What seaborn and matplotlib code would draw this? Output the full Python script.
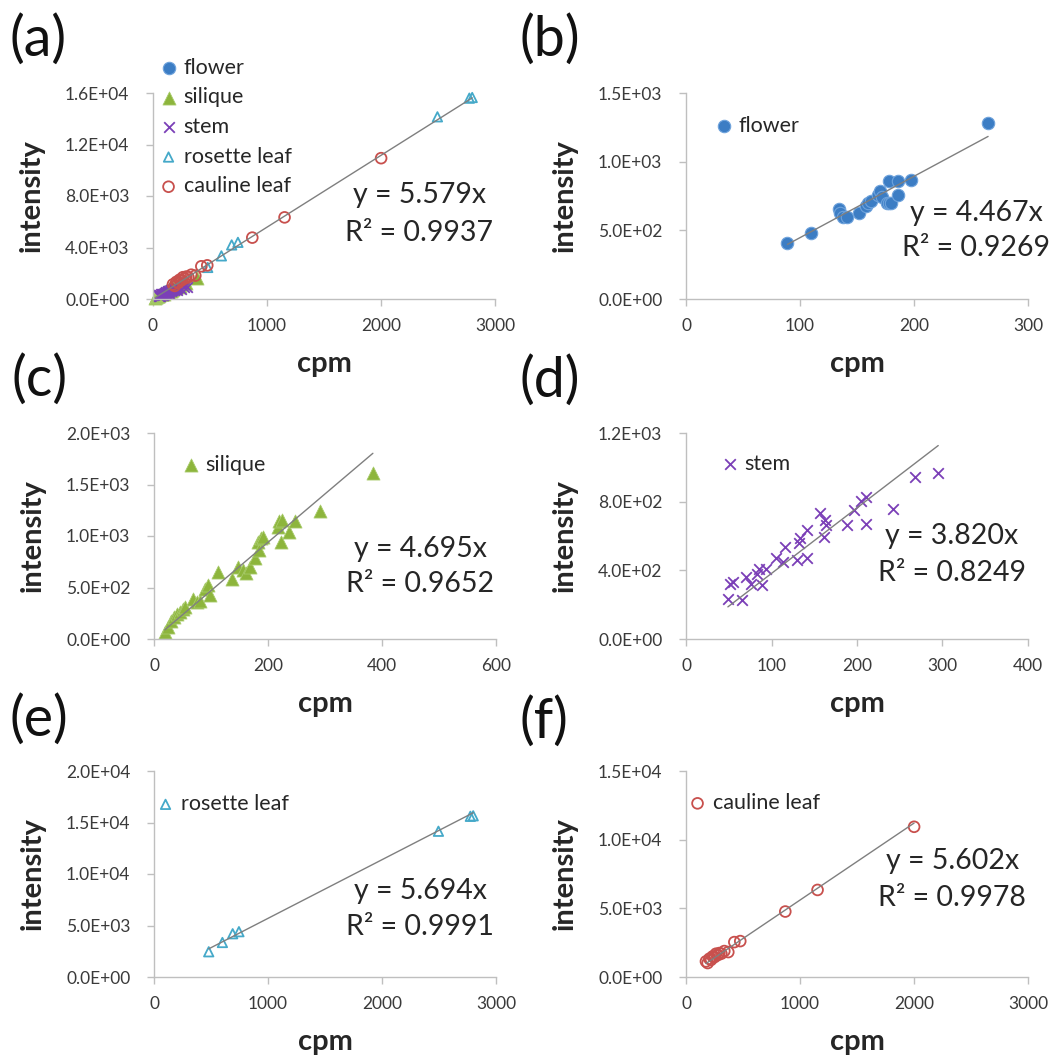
import numpy as np
import pandas as pd
import matplotlib
matplotlib.use("Agg")
import matplotlib.pyplot as plt
import seaborn as sns
from matplotlib.ticker import FuncFormatter, MultipleLocator

# ---------------- data ----------------
flower_cpm = [89, 110, 134, 135, 138, 141, 152, 158, 160, 162, 168, 170, 172, 176, 178, 180, 178, 186, 186, 197, 265]
flower_int = [406, 479, 654, 625, 600, 595, 625, 680, 700, 715, 760, 783, 745, 698, 698, 700, 856, 856, 758, 863, 1281]

silique_cpm = [19, 25, 30, 35, 40, 45, 50, 55, 68, 75, 80, 89, 95, 98, 112, 137, 147, 156, 162, 168,
               177, 182, 185, 188, 192, 218, 220, 223, 225, 237, 247, 292, 384]
silique_int = [65, 120, 170, 212, 240, 261, 290, 310, 391, 359, 370, 489, 522, 424, 652, 587, 701, 668, 640, 701,
               782, 945, 864, 978, 990, 1092, 1141, 945, 1160, 1043, 1141, 1245, 1607]

stem_cpm = [49, 52, 55, 65, 70, 76, 83, 85, 89, 93, 105, 113, 116, 130, 132, 133, 141, 141, 157, 161,
            162, 164, 188, 196, 205, 210, 210, 242, 268, 295]
stem_int = [234, 322, 332, 225, 361, 322, 381, 410, 317, 410, 469, 449, 537, 459, 557, 586, 635, 469, 733, 596,
            694, 664, 664, 752, 805, 830, 668, 756, 942, 967]

rosette_cpm = [480, 600, 690, 745, 2495, 2775, 2800]
rosette_int = [2450, 3350, 4200, 4400, 14150, 15600, 15650]

cauline_cpm = [175, 190, 205, 220, 234, 250, 263, 280, 292, 310, 336, 371, 424, 476, 871, 1154, 2001]
cauline_int = [1137, 1016, 1331, 1250, 1500, 1450, 1694, 1600, 1742, 1700, 1888, 1815, 2541, 2614, 4767, 6340, 10938]

series_names = ["flower", "silique", "stem", "rosette leaf", "cauline leaf"]
series_cpm = [flower_cpm, silique_cpm, stem_cpm, rosette_cpm, cauline_cpm]
series_int = [flower_int, silique_int, stem_int, rosette_int, cauline_int]

panel_labels = ["(a)", "(b)", "(c)", "(d)", "(e)", "(f)"]
panel_slopes = [5.579, 4.467, 4.695, 3.820, 5.694, 5.602]
panel_r2 = ["0.9937", "0.9269", "0.9652", "0.8249", "0.9991", "0.9978"]

# ---------------- styling ----------------
sns.set_theme(style="white")
plt.rcParams["font.family"] = ["Lato", "DejaVu Sans"]

W, H = 1062, 1059
fig = plt.figure(figsize=(W / 100, H / 100), dpi=100)

styles = {
    "flower": dict(marker="o", s=80, color="#3C7DC4", edgecolor="#6FA3DC", linewidth=0.8),
    "silique": dict(marker="^", s=88, color="#8DB53C", edgecolor="#A8CB6B", linewidth=0.6),
    "stem": dict(marker="x", s=58, color="#7B3FB7", linewidth=1.3),
    "rosette leaf": dict(marker="^", s=46, color="#45A9C9", facecolor="none", edgecolor="#45A9C9", linewidth=1.3),
    "cauline leaf": dict(marker="o", s=60, color="#C8504D", facecolor="none", edgecolor="#C8504D", linewidth=1.3),
}

# panel: (axes left px, axes top px, series indices, xmax, xstep, ymax, ystep,
#         eq x frac, eq line1 y frac, eq line2 y frac, legend anchor px, label px)
panels = [
    (153, 93, [0, 1, 2, 3, 4], 3000, 1000, 16000, 4000, 0.778, 0.505, 0.32, (161, 127), (10, 40)),
    (686, 93, [0], 300, 100, 1500, 500, 0.848, 0.417, 0.248, (716, 126), (519, 40)),
    (154, 433, [1], 600, 200, 2000, 500, 0.778, 0.439, 0.268, (183, 465), (12, 380)),
    (686, 433, [2], 400, 100, 1200, 400, 0.777, 0.498, 0.322, (722, 464), (519, 381)),
    (154, 771, [3], 3000, 1000, 20000, 5000, 0.778, 0.417, 0.243, (158, 804), (10, 720)),
    (686, 771, [4], 3000, 1000, 15000, 5000, 0.779, 0.561, 0.385, (690, 803), (519, 722)),
]

AXW, AXH = 342, 206
sci = FuncFormatter(lambda v, p: f"{v:.1E}")
axis_gray = "#BFBFBF"
txt_col = "#262626"

for k, (lx, ty, idxs, xmax, xstep, ymax, ystep, exf, ey1, ey2, leg_px, lab_px) in enumerate(panels):
    ax = fig.add_axes([lx / W, 1 - (ty + AXH) / H, AXW / W, AXH / H])
    allx = []
    for i in idxs:
        df = pd.DataFrame({"cpm": series_cpm[i], "intensity": series_int[i]})
        sns.scatterplot(data=df, x="cpm", y="intensity", ax=ax, label=series_names[i],
                        clip_on=False, zorder=2, **styles[series_names[i]])
        allx += series_cpm[i]
    xs = np.array([min(allx), max(allx)], dtype=float)
    ax.plot(xs, panel_slopes[k] * xs, color="#7F7F7F", lw=1.0, zorder=3)

    ax.set_xlim(0, xmax)
    ax.set_ylim(0, ymax)
    ax.xaxis.set_major_locator(MultipleLocator(xstep))
    ax.yaxis.set_major_locator(MultipleLocator(ystep))
    ax.yaxis.set_major_formatter(sci)
    for sp in ["top", "right"]:
        ax.spines[sp].set_visible(False)
    for sp in ["left", "bottom"]:
        ax.spines[sp].set_color(axis_gray)
        ax.spines[sp].set_linewidth(1.0)
    ax.tick_params(axis="both", direction="out", length=5, width=1, color=axis_gray,
                   labelsize=12.5, labelcolor="#3A3A3A", left=True, bottom=True)
    ax.tick_params(axis="y", pad=12)
    ax.tick_params(axis="x", pad=9)

    ax.set_xlabel("cpm", fontsize=21, fontweight="bold", color=txt_col, labelpad=12)
    ax.set_ylabel("intensity", fontsize=21, fontweight="bold", color=txt_col)
    ax.yaxis.set_label_coords(-108 / AXW, 0.5)

    ax.text(exf, ey1, f"y = {panel_slopes[k]:.3f}x", transform=ax.transAxes,
            ha="center", va="center", fontsize=20.5, color=txt_col)
    ax.text(exf, ey2, f"R\u00b2 = {panel_r2[k]}", transform=ax.transAxes,
            ha="center", va="center", fontsize=20.5, color=txt_col)

    leg = ax.legend(loc="center left", bbox_to_anchor=(leg_px[0] / W, 1 - leg_px[1] / H),
                    bbox_transform=fig.transFigure, frameon=False, fontsize=15.5,
                    borderpad=0, borderaxespad=0, handlelength=0.7, handletextpad=0.35,
                    labelspacing=0.45)
    for t in leg.get_texts():
        t.set_color(txt_col)

    fig.text(lab_px[0] / W, 1 - lab_px[1] / H, panel_labels[k], fontsize=40,
             ha="left", va="center", color="#111111")

fig.savefig("out.png", dpi=100)
